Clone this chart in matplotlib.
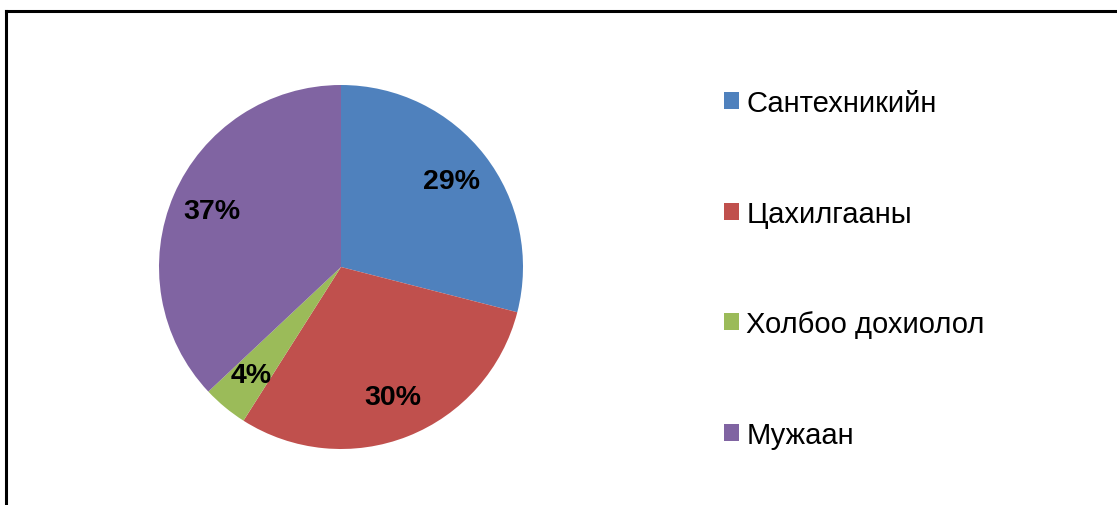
import matplotlib
matplotlib.use("Agg")
import matplotlib.pyplot as plt
from matplotlib.lines import Line2D
from matplotlib.patches import Patch

categories = ["Сантехникийн", "Цахилгааны", "Холбоо дохиолол", "Мужаан"]
values = [29, 30, 4, 37]
colors = ["#4F81BD", "#C0504D", "#9BBB59", "#8064A2"]

plt.rcParams['font.family'] = ['Liberation Sans', 'DejaVu Sans']

W, H = 1117, 506
fig = plt.figure(figsize=(W/100, H/100), dpi=100)
fig.patch.set_facecolor("white")

ax = fig.add_axes([159/W, 1-450/H, 364/W, 364/H])
wedges, texts, autotexts = ax.pie(values, colors=colors, startangle=90, counterclock=False,
                                  autopct=lambda p: f"{p:.0f}%", pctdistance=0.77,
                                  wedgeprops=dict(linewidth=0))
for t in autotexts:
    t.set_fontsize(20.5)
    t.set_fontweight("bold")
    t.set_color("black")
ax.set_aspect("equal")
ax.set_xlim(-1, 1)
ax.set_ylim(-1, 1)

handles = [Patch(facecolor=c, edgecolor="none") for c in colors]
fs = 21
fig.legend(handles, categories, loc="upper left", bbox_to_anchor=(724/W, 1-90/H),
           frameon=False, fontsize=fs, handlelength=0.52, handleheight=0.52,
           handletextpad=0.24, labelspacing=2.83, borderaxespad=0, borderpad=0)

# chart frame (left and top edges visible)
fig.add_artist(Line2D([5.5/W, 5.5/W], [0, 1-12/H], transform=fig.transFigure, color="black", lw=2.2))
fig.add_artist(Line2D([5.5/W, 1], [1-12/H, 1-12/H], transform=fig.transFigure, color="black", lw=2.2))

fig.savefig("out.png", dpi=100, facecolor="white")
